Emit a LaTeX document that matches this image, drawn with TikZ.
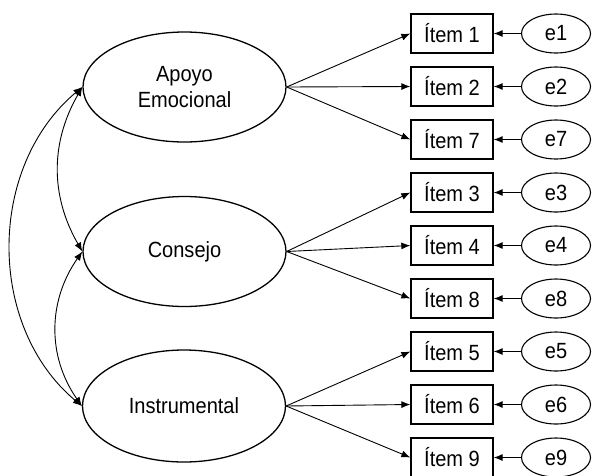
\documentclass[tikz,border=0pt]{standalone}
\usepackage{fontspec}
\setmainfont{Liberation Sans}[FakeStretch=0.91]
\usetikzlibrary{arrows.meta,shapes.geometric}
\tikzset{
	latent/.style={draw,ellipse,line width=1.3pt,minimum width=203pt,minimum height=110pt,inner sep=0pt,align=center},
	item/.style={draw,rectangle,line width=1.3pt,minimum width=82pt,minimum height=39pt,inner sep=0pt},
	error/.style={draw,ellipse,line width=1.1pt,minimum width=69pt,minimum height=39pt,inner sep=0pt},
	load/.style={line width=0.9pt,-{Latex[length=9pt,width=7pt]}},
	cov/.style={line width=0.9pt,{Latex[length=9pt,width=7pt]}-{Latex[length=9pt,width=7pt]}}
}
\begin{document}
\begin{tikzpicture}[x=1pt,y=-1pt,font=\fontsize{22}{26}\selectfont]
		\useasboundingbox (0,0) rectangle (592,475);
		\node[latent] (apoyo) at (184.5,87) {Apoyo\\Emocional};
		\node[latent] (consejo) at (184.5,251.5) {Consejo};
		\node[latent,minimum height=112pt] (instr) at (184,406) {Instrumental};

		\foreach \n [count=\k] in {1,2,7,3,4,8,5,6,9}{
			\pgfmathsetmacro{\ypos}{33.5+53*(\k-1)}
			\node[item] (i\n) at (452,\ypos) {Ítem \n};
			\node[error] (e\n) at (556,\ypos) {e\n};
			\draw[load] (e\n) -- (i\n);
		}
		\foreach \n in {1,2,7}{
			\draw[load] (apoyo.east) -- (i\n.west);
		}
		\foreach \n in {3,4,8}{
			\draw[load] (consejo.east) -- (i\n.west);
		}
		\foreach \n in {5,6,9}{
			\draw[load] (instr.east) -- (i\n.west);
		}

		\draw[cov] (apoyo.west) to[out=240,in=120] (consejo.west);
		\draw[cov] (apoyo.west) to[out=220,in=140] (instr.west);
		\draw[cov] (consejo.west) to[out=235,in=125] (instr.west);

	\end{tikzpicture}
\end{document}
